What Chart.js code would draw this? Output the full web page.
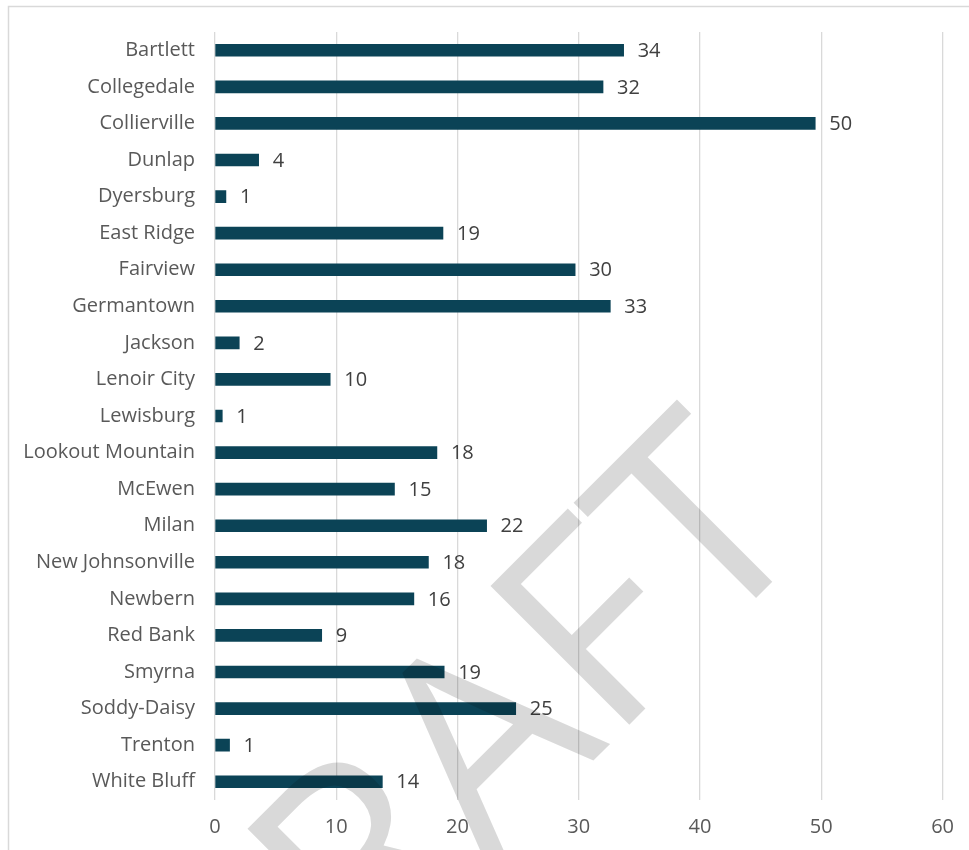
<!DOCTYPE html>
<html>
<head>
<meta charset="utf-8">
<script src="https://cdn.jsdelivr.net/npm/chart.js@4"></script>
<style>
  html, body { margin: 0; padding: 0; background: #fff; }
  #wrap { width: 969px; height: 850px; position: relative; }
</style>
</head>
<body>
<div id="wrap"><canvas id="chart"></canvas></div>
<script>
// Data
const cities = [
  "Bartlett", "Collegedale", "Collierville", "Dunlap", "Dyersburg",
  "East Ridge", "Fairview", "Germantown", "Jackson", "Lenoir City",
  "Lewisburg", "Lookout Mountain", "McEwen", "Milan", "New Johnsonville",
  "Newbern", "Red Bank", "Smyrna", "Soddy-Daisy", "Trenton", "White Bluff"
];
const values = [
  33.7, 32.0, 49.5, 3.6, 0.9,
  18.8, 29.7, 32.6, 2.0, 9.5,
  0.6, 18.3, 14.8, 22.4, 17.6,
  16.4, 8.8, 18.9, 24.8, 1.2, 13.8
];
const xMax = 60;
const xStep = 10;
const watermarkText = "DRAFT";

const barColor = "#0b4356";
const gridColor = "#d9d9d9";
const tickColor = "#595959";
const labelColor = "#404040";
const fontFamily = "'Open Sans', 'Noto Sans', sans-serif";

// frame line around the chart (only top and left edges are inside the shot)
const framePlugin = {
  id: 'frame',
  beforeDraw(chart) {
    const ctx = chart.ctx;
    ctx.save();
    ctx.strokeStyle = gridColor;
    ctx.lineWidth = 1.5;
    ctx.strokeRect(8.5, 6.5, 2000, 2000);
    ctx.restore();
  }
};

// value labels at the end of each bar
const valueLabels = {
  id: 'valueLabels',
  afterDatasetsDraw(chart) {
    const ctx = chart.ctx;
    const meta = chart.getDatasetMeta(0);
    ctx.save();
    ctx.font = "20px " + fontFamily;
    ctx.fillStyle = labelColor;
    ctx.textBaseline = 'middle';
    ctx.textAlign = 'left';
    meta.data.forEach((bar, i) => {
      ctx.fillText(String(Math.round(values[i])), bar.x + 14, bar.y + 1);
    });
    ctx.restore();
  }
};

// diagonal watermark drawn over everything
const watermark = {
  id: 'watermark',
  afterDraw(chart) {
    const ctx = chart.ctx;
    ctx.save();
    ctx.translate(522, 832);
    ctx.rotate(-Math.PI / 4);
    ctx.font = "275px " + fontFamily;
    ctx.fillStyle = "rgba(0, 0, 0, 0.15)";
    ctx.textAlign = 'center';
    ctx.textBaseline = 'alphabetic';
    ctx.fillText(watermarkText, 0, 0);
    ctx.restore();
  }
};

const ctx = document.getElementById('chart').getContext('2d');
new Chart(ctx, {
  type: 'bar',
  data: {
    labels: cities,
    datasets: [{
      data: values,
      backgroundColor: barColor,
      borderWidth: 0,
      barThickness: 12
    }]
  },
  options: {
    indexAxis: 'y',
    responsive: true,
    maintainAspectRatio: false,
    animation: false,
    layout: { padding: { top: 32, right: 25, bottom: 0, left: 0 } },
    plugins: {
      legend: { display: false },
      tooltip: { enabled: false }
    },
    scales: {
      x: {
        min: 0,
        max: xMax,
        ticks: {
          stepSize: xStep,
          padding: 15,
          color: tickColor,
          font: { size: 20, family: fontFamily }
        },
        grid: { color: gridColor, lineWidth: 1.3, drawTicks: false },
        border: { display: false },
        afterFit(scale) { scale.height = 50; }
      },
      y: {
        ticks: {
          padding: 20,
          color: tickColor,
          font: { size: 20, family: fontFamily },
          autoSkip: false
        },
        grid: { display: false, drawTicks: false },
        border: { display: false },
        afterFit(scale) { scale.width = 215; }
      }
    }
  },
  plugins: [framePlugin, valueLabels, watermark]
});
</script>
</body>
</html>
